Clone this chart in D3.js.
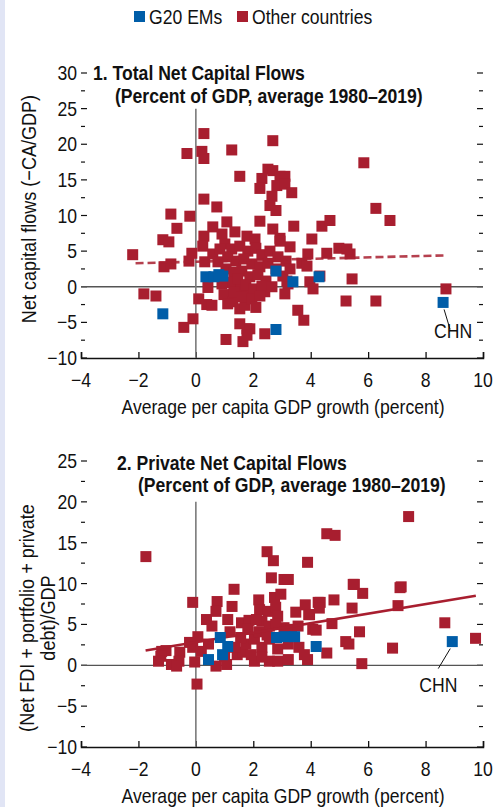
<!DOCTYPE html>
<html>
<head>
<meta charset="utf-8">
<script src="https://cdnjs.cloudflare.com/ajax/libs/d3/7.8.5/d3.min.js"></script>
<style>
  body { margin: 0; background: #fff; }
  svg text { font-family: "Liberation Sans", Arial, sans-serif; fill: #111; }
</style>
</head>
<body>
<script>
// ---- data ----
var seriesNames = ["G20 EMs", "Other countries"];
var xTicks = [-4, -2, 0, 2, 4, 6, 8, 10];

// panel 1: total net capital flows, [growth, flows]
var totalOther = [
  [0.28,21.5],[-0.31,18.7],[0.21,19.0],[0.28,18.0],[1.25,19.2],[1.53,15.5],[2.68,20.5],[5.85,17.4],
  [2.51,16.5],[2.68,16.3],[2.93,15.5],[3.10,15.5],[2.30,15.2],[2.23,13.8],[2.82,14.2],[3.10,14.4],
  [3.34,13.2],[2.65,12.7],[2.58,11.4],[2.79,10.7],[6.27,11.0],[6.76,9.3],[0.28,12.3],[0.73,11.2],
  [-0.87,10.2],[-0.21,9.9],[-0.66,8.2],[-1.15,6.6],[-0.94,6.3],[2.23,9.2],[2.68,8.1],[3.41,8.5],
  [4.39,8.5],[4.67,9.3],[4.04,6.7],[2.93,6.8],[0.59,8.4],[1.08,9.1],[1.36,7.7],[0.91,7.4],
  [0.28,7.1],[0.24,5.7],[1.78,7.1],[2.06,6.7],[-0.14,4.7],[-0.24,3.6],[3.28,5.6],[3.90,4.6],
  [4.56,4.7],[4.98,5.4],[5.37,4.6],[3.69,3.3],[3.87,2.9],[0.31,3.5],[0.59,4.6],[0.77,3.5],
  [4.32,1.5],[5.44,1.1],[3.97,0.7],[4.08,-0.3],[3.21,0.4],[2.40,-0.7],[5.23,-2.0],[6.27,-2.0],
  [8.71,-0.3],[3.55,-3.3],[3.76,-4.7],[2.40,-6.6],[1.78,-5.9],[1.64,-7.7],[1.05,-7.4],[-2.20,4.5],
  [-1.11,2.8],[-0.87,3.2],[-1.81,-1.0],[-1.39,-1.3],[-0.10,-4.5],[-0.42,-5.7],[0.10,-1.7],[0.42,-0.1],
  [0.38,-2.5],[0.56,-2.6],[0.98,-1.1],[1.46,-0.3],[1.78,-0.7],[1.29,-2.1],[1.53,-3.1],[1.71,-2.6],
  [1.53,-5.2],[1.88,-5.9],[1.78,-6.8],[3.17,0.8],[3.03,1.5],[2.93,6.4],[5.26,5.3],
  [1.01,6.0],[1.25,5.3],[1.53,5.7],[1.81,5.0],[2.09,5.4],[2.30,4.5],[2.58,5.0],[2.86,4.2],
  [3.14,3.6],[1.11,4.2],[1.39,3.6],[1.67,3.9],[1.95,3.2],[2.23,2.8],[2.51,3.3],[2.79,2.5],
  [1.05,2.5],[1.32,2.0],[1.60,2.2],[1.88,1.4],[2.16,1.7],[2.44,0.8],[1.18,0.6],[1.46,1.1],
  [1.74,0.3],[2.02,-0.3],[2.30,0.1],[2.65,0.0],[1.32,-0.8],[1.60,-1.4],[1.95,-1.7],[2.23,-1.3],
  [1.11,-2.4],[2.09,-2.9],[0.84,5.3],[0.91,0.4],[3.10,-1.0],[3.28,2.5]
];
var totalG20 = [
  [0.35,1.4],[0.63,1.4],[0.80,1.7],[0.94,1.5],[2.79,2.2],[3.38,0.7],[4.29,1.4],[2.79,-6.0],
  [-1.15,-3.8],[8.61,-2.2]
];
var totalTrend = [[-2.1, 3.3], [8.7, 4.4]];

// panel 2: private net capital flows
var privateOther = [
  [-1.74,13.3],[7.41,18.2],[4.56,16.1],[4.85,15.9],[2.48,13.9],[2.70,12.8],[3.89,12.6],[2.63,10.7],
  [3.07,10.5],[5.48,9.9],[7.15,9.6],[1.33,9.3],[-0.11,7.7],[0.74,7.8],[1.26,7.2],[0.70,6.6],
  [0.37,5.6],[0.56,4.8],[1.11,5.6],[1.59,5.2],[1.85,5.5],[2.19,8.0],[2.74,8.3],[2.96,8.7],
  [2.22,6.8],[2.52,6.6],[2.78,7.1],[2.85,6.0],[2.30,5.4],[2.56,4.8],[3.48,6.5],[3.81,7.4],
  [3.96,6.2],[4.26,7.7],[3.07,4.6],[3.33,4.4],[3.56,4.8],[0.07,3.5],[-0.22,2.8],[-0.11,2.2],
  [-1.19,1.7],[-1.04,1.8],[-1.22,1.1],[-1.30,0.5],[-0.56,1.6],[-0.59,0.5],[-0.85,0.1],[-0.67,-0.1],
  [-0.04,0.4],[0.70,-0.1],[1.07,0.1],[1.00,1.1],[1.44,1.3],[1.63,1.6],[2.04,0.5],[2.56,0.5],
  [2.85,0.5],[3.22,0.7],[3.89,0.7],[0.04,-2.3],[4.07,4.4],[3.22,10.5],[5.52,9.9],[5.81,8.8],
  [7.11,9.5],[4.81,8.0],[4.33,7.7],[3.93,6.2],[4.30,7.0],[5.44,7.0],[7.04,7.3],[4.74,5.1],
  [4.19,4.3],[5.70,4.1],[5.22,2.9],[5.33,2.6],[6.85,2.1],[4.56,1.5],[5.78,0.2],[8.67,5.2],
  [9.74,3.3],[1.74,2.6],[2.04,3.2],[2.30,2.2],[2.56,3.2],[2.85,2.0],[3.22,2.6],[1.93,1.3],
  [2.30,1.0],[1.37,2.2],[1.56,3.4],[1.81,4.4],[2.19,4.1],[2.48,3.7],[2.78,5.0],[2.11,5.6],
  [1.19,4.1],[0.44,2.6],[0.19,1.7],[3.59,2.2],[3.78,1.3]
];
var privateG20 = [
  [0.44,0.7],[0.93,1.3],[1.11,2.3],[0.85,3.4],[2.81,3.4],[3.11,3.5],[3.44,3.5],[4.19,2.3],[8.93,2.9]
];
var privateTrend = [[-1.75, 1.8], [9.75, 8.5]];

var red = "#a81e2f";
var blue = "#005da8";
var squeeze = 0.88; // narrow the sans font to look like the condensed original

var svg = d3.select("body").append("svg")
  .attr("width", 498)
  .attr("height", 807);

svg.append("rect").attr("x", 0).attr("y", 0).attr("width", 5).attr("height", 807).attr("fill", "#e1e5f5");

// text helper: condensed look via horizontal scale
function label(parent, x, y, str, size, anchor, bold, rot, sq) {
  var t = parent.append("text")
    .attr("transform", "translate(" + x + "," + y + ")" + (rot ? " rotate(" + rot + ")" : "") +
      " scale(" + (sq || squeeze) + ",1)")
    .attr("font-size", size)
    .attr("text-anchor", anchor || "start")
    .text(str);
  if (bold) t.attr("font-weight", "bold");
  return t;
}

function fmt(v) { return v < 0 ? "\u2212" + Math.abs(v) : String(v); }

// legend
var legendX = [134, 237];
seriesNames.forEach(function (name, i) {
  svg.append("rect").attr("x", legendX[i]).attr("y", 11).attr("width", 11).attr("height", 11)
    .attr("fill", i === 0 ? blue : red);
  label(svg, legendX[i] + 15, 24, name, 20);
});

function panel(cfg) {
  var x = d3.scaleLinear().domain([-4, 10]).range([81, 483]);
  var y = d3.scaleLinear().domain([-10, cfg.yMax]).range([cfg.bottom, cfg.top]);
  var g = svg.append("g");

  // y ticks every 2.5, labelled every 5
  var yTicks = d3.range(-10, cfg.yMax + 0.01, 2.5);
  yTicks.forEach(function (t) {
    var major = t % 5 === 0;
    var len = major ? 6 : 4;
    g.append("line").attr("x1", 81).attr("x2", 81 + len)
      .attr("y1", y(t)).attr("y2", y(t)).attr("stroke", "#111").attr("stroke-width", 1.2);
    g.append("line").attr("x1", 483 - len).attr("x2", 483)
      .attr("y1", y(t)).attr("y2", y(t)).attr("stroke", "#111").attr("stroke-width", 1.2);
    if (major) label(g, 77, y(t) + 7, fmt(t), 20, "end");
  });

  // x axis
  var xAxis = d3.axisBottom(x).tickValues(xTicks).tickSize(-6).tickFormat("");
  var ax = g.append("g").attr("transform", "translate(0," + cfg.bottom + ")").call(xAxis);
  ax.select(".domain").attr("stroke", "#111").attr("stroke-width", 1.5);
  ax.selectAll(".tick line").attr("stroke", "#111").attr("stroke-width", 1.3);
  xTicks.forEach(function (t) { label(g, x(t), cfg.bottom + 29, fmt(t), 20, "middle"); });

  // zero lines
  g.append("line").attr("x1", 81).attr("x2", 483).attr("y1", y(0)).attr("y2", y(0))
    .attr("stroke", "#555").attr("stroke-width", 1.3);
  g.append("line").attr("x1", x(0)).attr("x2", x(0)).attr("y1", y(cfg.vTop)).attr("y2", cfg.bottom)
    .attr("stroke", "#7a7a7a").attr("stroke-width", 1.6);

  var s = 11;
  g.selectAll(".other").data(cfg.other).enter().append("rect")
    .attr("x", function (d) { return x(d[0]) - s / 2; })
    .attr("y", function (d) { return y(d[1]) - s / 2; })
    .attr("width", s).attr("height", s).attr("fill", red);

  var line = d3.line().x(function (d) { return x(d[0]); }).y(function (d) { return y(d[1]); });
  g.append("path").datum(cfg.trend).attr("d", line)
    .attr("fill", "none").attr("stroke", red).attr("stroke-width", 2.6)
    .attr("stroke-opacity", cfg.dashed ? 0.85 : 1)
    .attr("stroke-dasharray", cfg.dashed ? "8,4" : null);

  g.selectAll(".g20").data(cfg.g20).enter().append("rect")
    .attr("x", function (d) { return x(d[0]) - s / 2; })
    .attr("y", function (d) { return y(d[1]) - s / 2; })
    .attr("width", s).attr("height", s).attr("fill", blue);

  // CHN label
  var chn = cfg.g20[cfg.g20.length - 1];
  g.append("line").attr("x1", x(chn[0]) + cfg.chnLine[0]).attr("y1", y(chn[1]) + 7)
    .attr("x2", x(chn[0]) + cfg.chnLine[1]).attr("y2", y(chn[1]) + 27)
    .attr("stroke", "#111").attr("stroke-width", 1);
  label(g, x(chn[0]) + cfg.chnText[0], y(chn[1]) + cfg.chnText[1], "CHN", 20);

  // titles
  label(g, cfg.t1[0], cfg.t1[1], cfg.title, 20, "start", true);
  label(g, cfg.t2[0], cfg.t2[1], "(Percent of GDP, average 1980\u20132019)", 20, "start", true);

  label(g, 283, cfg.bottom + 56, "Average per capita GDP growth (percent)", 20, "middle");

  cfg.yLabel.forEach(function (l) { label(g, l[1], l[2], l[0], 21, "middle", false, -90, 0.86); });
}

panel({
  top: 73, bottom: 358, yMax: 30, vTop: 25,
  other: totalOther, g20: totalG20, trend: totalTrend, dashed: true,
  chnLine: [1, 7], chnText: [-9, 36],
  title: "1. Total Net Capital Flows", t1: [93, 80], t2: [115, 103],
  yLabel: [["Net capital flows (\u2212CA/GDP)", 36, 209]]
});

panel({
  top: 461, bottom: 747, yMax: 25, vTop: 20,
  other: privateOther, g20: privateG20, trend: privateTrend, dashed: false,
  chnLine: [-2, -14], chnText: [-33, 50],
  title: "2. Private Net Capital Flows", t1: [117, 470], t2: [138, 492],
  yLabel: [["(Net FDI + portfolio + private", 34, 618], ["debt)/GDP", 55, 618]]
});
</script>
</body>
</html>
